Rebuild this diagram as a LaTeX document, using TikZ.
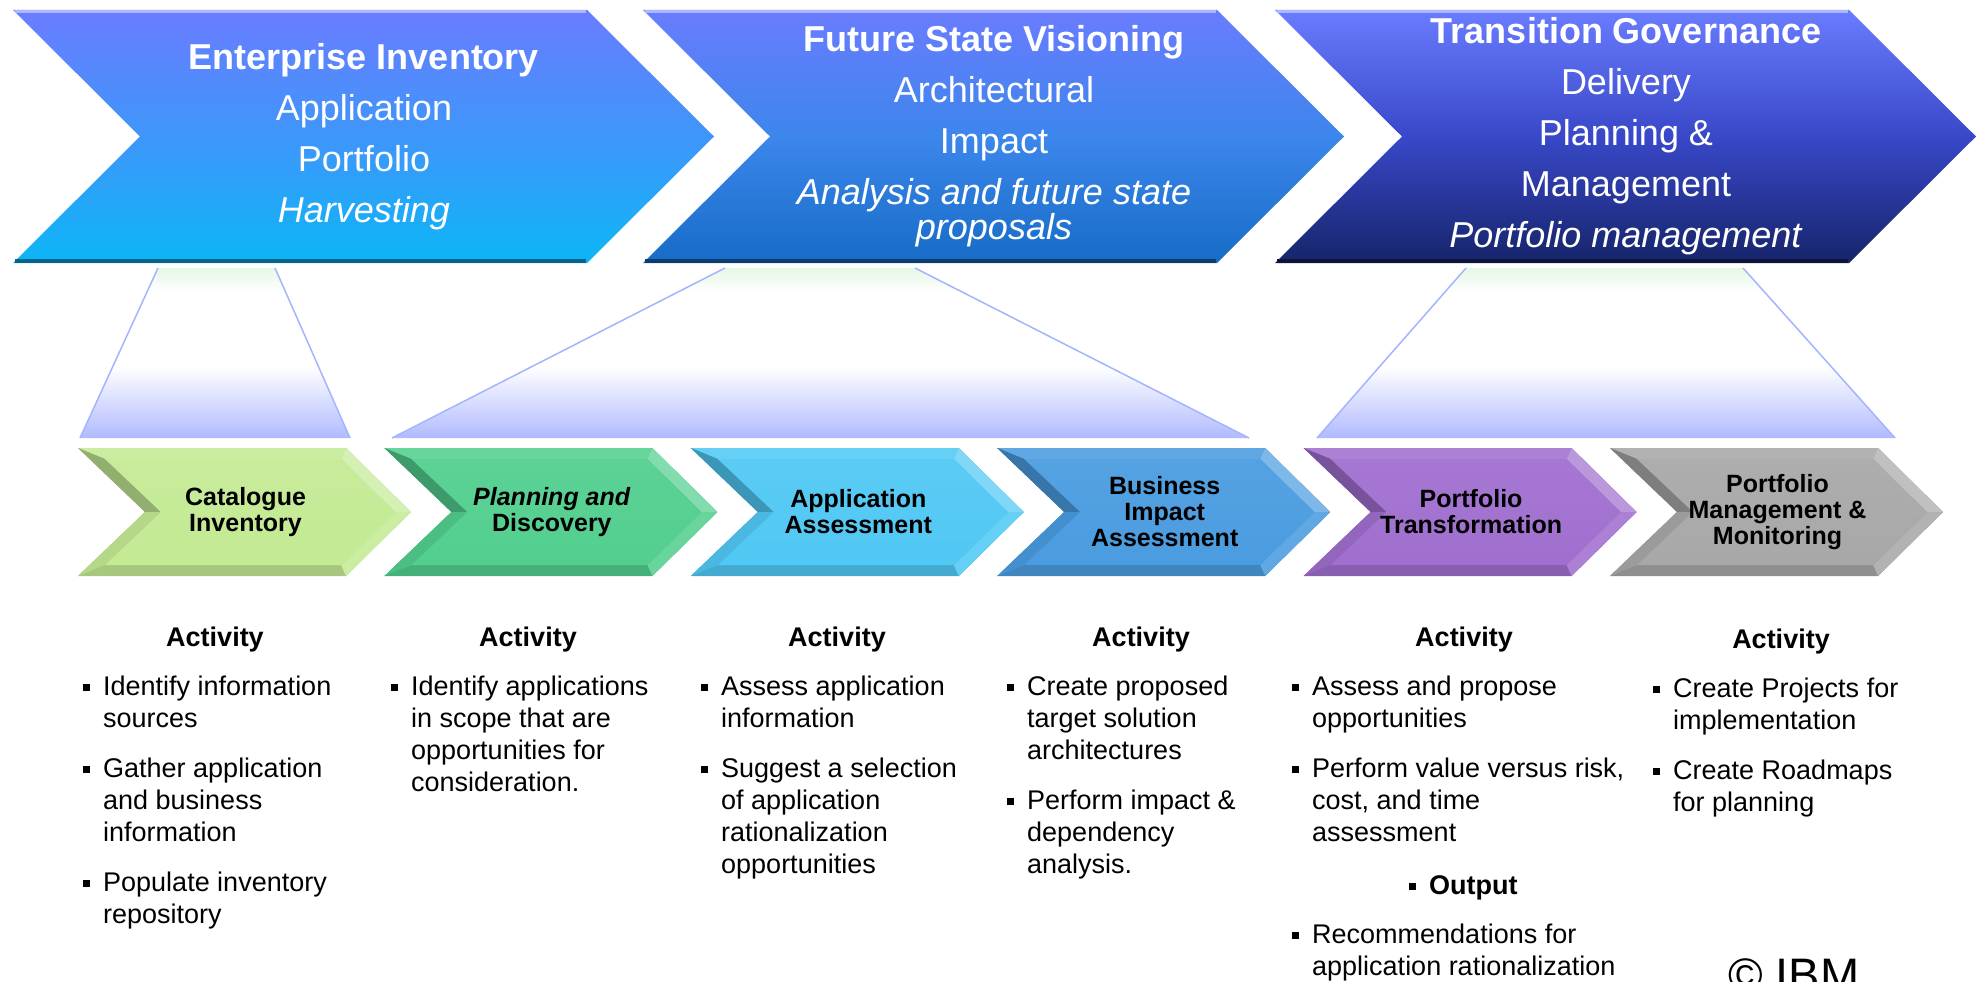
\documentclass[tikz,border=0pt]{standalone}
\usepackage{fontspec}
\setmainfont{Liberation Sans}
\usepackage{xcolor}
\usepackage{tikz}
\definecolor{toptint}{HTML}{6A7CFF}
\definecolor{invmid}{HTML}{3E96FA}
\definecolor{invbot}{HTML}{0CB6F6}
\definecolor{vismid}{HTML}{3C86EC}
\definecolor{visbot}{HTML}{166CC6}
\definecolor{govmid}{HTML}{3848C8}
\definecolor{govbot}{HTML}{16246A}
\definecolor{catgreen}{HTML}{C4EA94}
\definecolor{plangreen}{HTML}{52CF8F}
\definecolor{appblue}{HTML}{50C8F4}
\definecolor{busblue}{HTML}{4A9CE0}
\definecolor{portpurple}{HTML}{A06FCF}
\definecolor{mongray}{HTML}{A8A8A8}
\definecolor{fanedge}{HTML}{A4B4FF}
\pgfdeclareverticalshading{fanfade}{100bp}{rgb(0bp)=(0.69,0.73,1); rgb(25bp)=(0.69,0.73,1); rgb(46bp)=(1,1,1); rgb(68bp)=(1,1,1); rgb(75bp)=(0.9,0.97,0.9); rgb(100bp)=(0.9,0.97,0.9)}
\newcommand{\itemfont}{\fontsize{27}{32}\selectfont}
\newcommand{\sqbul}{\makebox[20pt][l]{\raisebox{4.5pt}{\rule{7pt}{7pt}}}}
\newcommand{\itmgap}{\hspace*{20pt}}
\tikzset {
  % big phase arrows
  phase/.style = {align=center, text=white, inner sep=0pt, font=\fontsize{36}{51}\selectfont},
  % small stage arrows
  stage/.style = {align=center, inner sep=0pt, font=\bfseries\fontsize{25}{26}\selectfont},
  fanline/.style = {fanedge, line width=1.5pt},
  % activity lists
  head/.style = {inner sep=0pt, font=\bfseries\itemfont},
  items/.style = {anchor=north west, align=left, inner sep=0pt, font=\itemfont},
}

\begin{document}
\begin{tikzpicture}[x=1pt,y=-1pt]
  \useasboundingbox (0,0) rectangle (1982,982);
  \clip (0,0) rectangle (1982,982);
  \fill[white] (0,0) rectangle (1982,982);

  % phases
  \foreach \L/\mid/\bot/\nm/\txt in {
      13/invmid/invbot/inv/{\textbf{Enterprise Inventory}\\Application\\Portfolio\\\textit{Harvesting}},
      643/vismid/visbot/vis/{\textbf{Future State Visioning}\\Architectural\\Impact\\\textit{Analysis and future state}\\[-16pt]\textit{proposals}},
      1275/govmid/govbot/gov/{\textbf{Transition Governance}\\Delivery\\Planning \&\\Management\\\textit{Portfolio management}}} {
    \shade[top color=toptint, bottom color=\bot, middle color=\mid]
      (\L,10) -- (\L+574,10) -- (\L+701,136.5) -- (\L+574,263) -- (\L,263) -- (\L+127,136.5) -- cycle;
    \draw[line width=4pt, \bot!55!black] (\L+2,261) -- (\L+573,261);
    \draw[line width=3pt, toptint!55!white] (\L+2,11.5) -- (\L+573,11.5);
    \node[phase] (\nm) at (\L+351,136.5) {\txt};
  }

  % fans
  \foreach \a/\b/\c/\d in {158/275/80/350, 725/915/392/1249, 1466/1743/1317/1895} {
    \shade[shading=fanfade] (\a,268) -- (\b,268) -- (\d,438) -- (\c,438) -- cycle;
    \draw[fanline] (\a,268) -- (\c,438) (\b,268) -- (\d,438);
  }

  % stages
  \foreach \i/\base/\nm/\txt in {
      0/catgreen/cat/{Catalogue\\Inventory},
      1/plangreen/plan/{\textit{Planning and}\\Discovery},
      2/appblue/appas/{Application\\Assessment},
      3/busblue/busas/{Business\\Impact\\Assessment},
      4/portpurple/ptrans/{Portfolio\\Transformation},
      5/mongray/pmon/{Portfolio\\Management \&\\Monitoring}} {
    \pgfmathsetmacro\L{78+306.4*\i}
    \fill[\base!85!black] (\L,448) -- (\L+268,448) -- (\L+333,512) -- (\L+268,576) -- (\L,576) -- (\L+67,512) -- cycle;
    \fill[\base!88!white] (\L,448) -- (\L+268,448) -- (\L+263,459) -- (\L+27,459) -- cycle;
    \fill[\base!72!white] (\L+268,448) -- (\L+333,512) -- (\L+317,512) -- (\L+263,459) -- cycle;
    \fill[\base!88!white] (\L+333,512) -- (\L+268,576) -- (\L+263,565) -- (\L+317,512) -- cycle;
    \fill[\base!75!black] (\L,448) -- (\L+67,512) -- (\L+83,512) -- (\L+27,459) -- cycle;
    \fill[\base!92!black] (\L+67,512) -- (\L,576) -- (\L+27,565) -- (\L+83,512) -- cycle;
    \shade[top color=\base!94!white, bottom color=\base]
      (\L+27,459) -- (\L+263,459) -- (\L+317,512) -- (\L+263,565) -- (\L+27,565) -- (\L+83,512) -- cycle;
    \node[stage] (\nm) at (\L+167.5,512) {\txt};
  }

  % activities
  \node[head] (act1) at (215,640) {Activity};
  \node[items] (list1) at (83,676) {\sqbul Identify information\\\itmgap sources\\[18pt]\sqbul Gather application\\\itmgap and business\\\itmgap information\\[18pt]\sqbul Populate inventory\\\itmgap repository};

  \node[head] (act2) at (528,640) {Activity};
  \node[items] (list2) at (391,676) {\sqbul Identify applications\\\itmgap in scope that are\\\itmgap opportunities for\\\itmgap consideration.};

  \node[head] (act3) at (837,640) {Activity};
  \node[items] (list3) at (701,676) {\sqbul Assess application\\\itmgap information\\[18pt]\sqbul Suggest a selection\\\itmgap of application\\\itmgap rationalization\\\itmgap opportunities};

  \node[head] (act4) at (1141,640) {Activity};
  \node[items] (list4) at (1007,676) {\sqbul Create proposed\\\itmgap target solution\\\itmgap architectures\\[18pt]\sqbul Perform impact \&\\\itmgap dependency\\\itmgap analysis.};

  \node[head] (act5) at (1464,640) {Activity};
  \node[items] (list5) at (1292,676) {\sqbul Assess and propose\\\itmgap opportunities\\[18pt]\sqbul Perform value versus risk,\\\itmgap cost, and time\\\itmgap assessment};
  \node[items] (out5) at (1409,875) {\sqbul\textbf{Output}};
  \node[items] (rec5) at (1292,924) {\sqbul Recommendations for\\\itmgap application rationalization};

  \node[head] (act6) at (1781,642) {Activity};
  \node[items] (list6) at (1653,678) {\sqbul Create Projects for\\\itmgap implementation\\[18pt]\sqbul Create Roadmaps\\\itmgap for planning};

  \node[anchor=base west, inner sep=0pt, font=\fontsize{47}{50}\selectfont] (ibm) at (1728,991) {© IBM};
\end{tikzpicture}
\end{document}
